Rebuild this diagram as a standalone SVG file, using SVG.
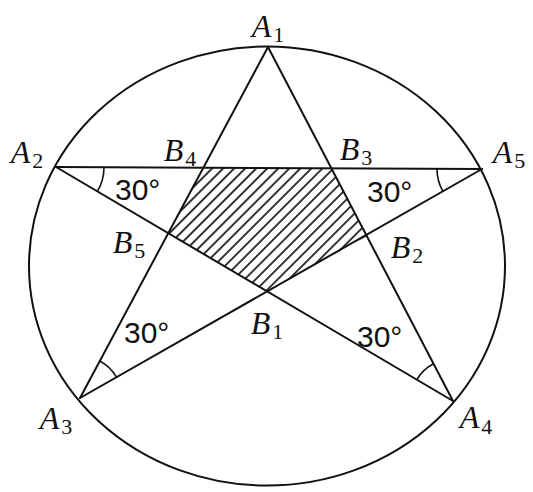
<svg xmlns="http://www.w3.org/2000/svg" width="533" height="492" viewBox="0 0 533 492">
<style>
.ln{stroke:#111;stroke-width:2;fill:none;stroke-linecap:round}
.ang{stroke:#111;stroke-width:1.6;fill:none}
.let{font-family:"Liberation Serif","Times New Roman",serif;font-style:italic;font-size:32px;fill:#111;text-anchor:middle}
.sub{font-style:normal;font-size:22px}
.deg{font-family:"Liberation Sans",Arial,sans-serif;font-size:30px;fill:#111}
</style>
<defs>
<pattern id="hatch" patternUnits="userSpaceOnUse" width="20" height="7.8" patternTransform="rotate(-45)">
<line x1="0" y1="3.9" x2="20" y2="3.9" stroke="#111" stroke-width="1.7"/>
</pattern>
</defs>
<rect width="533" height="492" fill="#fff"/>
<g id="hatched-region">
<polygon points="203.3,167.7 331.4,168.3 366.9,236.2 267.1,291.4 168.3,233.2" fill="url(#hatch)" stroke="none"/>
</g>
<g id="circle">
<ellipse cx="267" cy="266" rx="238" ry="219.5" class="ln"/>
</g>
<g id="connectors">
<line x1="268" y1="47" x2="80" y2="398" class="ln"/>
<line x1="268" y1="47" x2="453" y2="401" class="ln"/>
<line x1="56" y1="167" x2="482" y2="169" class="ln"/>
<line x1="56" y1="167" x2="453" y2="401" class="ln"/>
<line x1="80" y1="398" x2="482" y2="169" class="ln"/>
</g>
<g id="angle-marks">
<path d="M104,167.2 A48,48 0 0 1 97.4,191.4" class="ang"/>
<path d="M437,168.8 A45,45 0 0 0 442.9,191.3" class="ang"/>
<path d="M99.8,361 A42,42 0 0 1 116.5,377.2" class="ang"/>
<path d="M433.5,363.8 A42,42 0 0 0 416.8,379.7" class="ang"/>
</g>
<g id="angle-labels">
<text class="deg" x="115" y="200">30°</text>
<text class="deg" x="367" y="202">30°</text>
<text class="deg" x="124" y="343">30°</text>
<text class="deg" x="357" y="347">30°</text>
</g>
<g id="A1"><text class="let" x="268" y="37">A<tspan class="sub" dx="2" dy="5">1</tspan></text></g>
<g id="A2"><text class="let" x="27" y="163">A<tspan class="sub" dx="2" dy="5">2</tspan></text></g>
<g id="A3"><text class="let" x="56" y="429">A<tspan class="sub" dx="2" dy="5">3</tspan></text></g>
<g id="A4"><text class="let" x="476" y="428">A<tspan class="sub" dx="2" dy="6">4</tspan></text></g>
<g id="A5"><text class="let" x="509" y="163">A<tspan class="sub" dx="2" dy="5">5</tspan></text></g>
<g id="B1"><text class="let" x="267" y="334">B<tspan class="sub" dx="2" dy="5">1</tspan></text></g>
<g id="B2"><text class="let" x="407" y="258">B<tspan class="sub" dx="2" dy="5">2</tspan></text></g>
<g id="B3"><text class="let" x="356" y="160">B<tspan class="sub" dx="2" dy="5">3</tspan></text></g>
<g id="B4"><text class="let" x="180" y="161">B<tspan class="sub" dx="2" dy="5">4</tspan></text></g>
<g id="B5"><text class="let" x="129" y="253">B<tspan class="sub" dx="2" dy="5">5</tspan></text></g>
</svg>
